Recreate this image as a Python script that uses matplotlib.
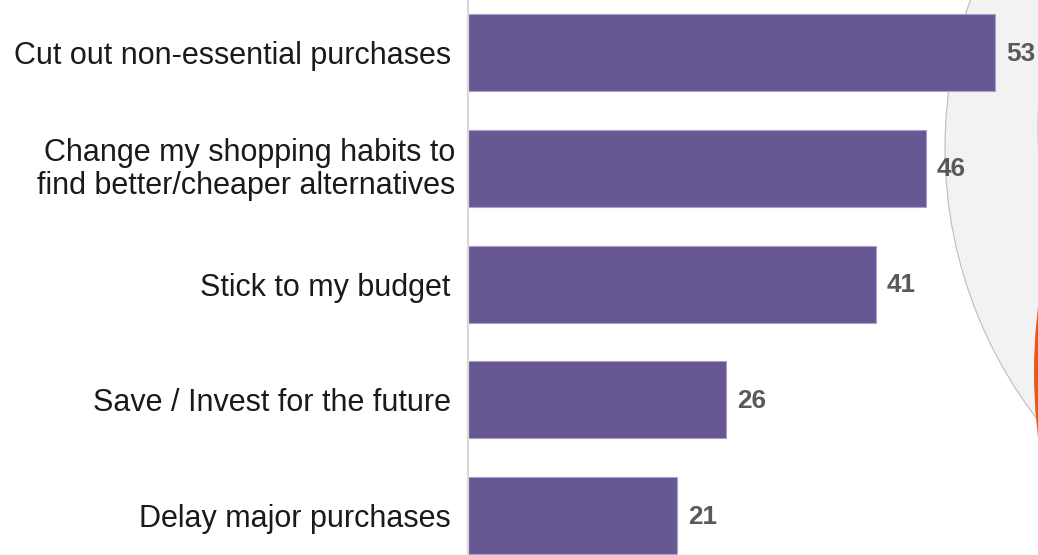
import numpy as np
import matplotlib
matplotlib.use("Agg")
import matplotlib.pyplot as plt
import matplotlib.transforms as mtransforms
from matplotlib.patches import Circle, Wedge

# Survey responses: share of respondents (%)
categories = [
    "Cut out non-essential purchases",
    "Change my shopping habits to\nfind better/cheaper alternatives",
    "Stick to my budget",
    "Save / Invest for the future",
    "Delay major purchases",
]
values = [53, 46, 41, 26, 21]

plt.rcParams["font.family"] = ["Liberation Sans", "DejaVu Sans"]

W, H = 1038, 555
fig = plt.figure(figsize=(W / 100, H / 100), dpi=100)

# Decorative backdrop in pixel units
bg = fig.add_axes([0, 0, 1, 1])
bg.set_xlim(0, W)
bg.set_ylim(H, 0)
bg.axis("off")
bg.add_patch(Circle((1390, 148), 445, facecolor="#f2f2f2",
                    edgecolor="#bdbdbd", lw=0.8))
bg.add_patch(Circle((1459, 128), 421, facecolor="none",
                    edgecolor="#bdbdbd", lw=0.8))
bg.add_patch(Wedge((1562, 372), 528, 0, 360, width=45,
                   facecolor="#e8581b", edgecolor="none"))

# Bar chart
left_px = 467.5
ax = fig.add_axes([left_px / W, 0, (W - left_px) / W, 1])
ax.patch.set_alpha(0)
y = np.arange(len(values))
ax.barh(y, values, height=0.665, color="#675894",
        edgecolor="#a99fcb", linewidth=0.8)
ax.set_ylim(4.341, -0.4536)
ax.set_xlim(0, (W - left_px) / 9.96)

for side in ("top", "right", "bottom"):
    ax.spines[side].set_visible(False)
ax.spines["left"].set_color("#d9d9d9")
ax.spines["left"].set_linewidth(1.6)

ax.set_xticks([])
ax.set_yticks(y)
ax.set_yticklabels(categories, fontsize=22, color="#1a1a1a",
                   linespacing=1.15)
ax.tick_params(axis="y", length=0, pad=12)

# Two-line label sits slightly above its bar's centre and a touch closer to the axis
shift = mtransforms.ScaledTranslation(4 / 100, 4 / 100, fig.dpi_scale_trans)
for lbl in ax.get_yticklabels():
    if "\n" in lbl.get_text():
        lbl.set_transform(lbl.get_transform() + shift)

for yi, v in zip(y, values):
    ax.annotate(f"{v}", (v, yi), xytext=(11, -1), textcoords="offset pixels",
                va="center", ha="left", fontsize=18.8, fontweight="bold",
                color="#595959")

fig.savefig("out.png", dpi=100)
